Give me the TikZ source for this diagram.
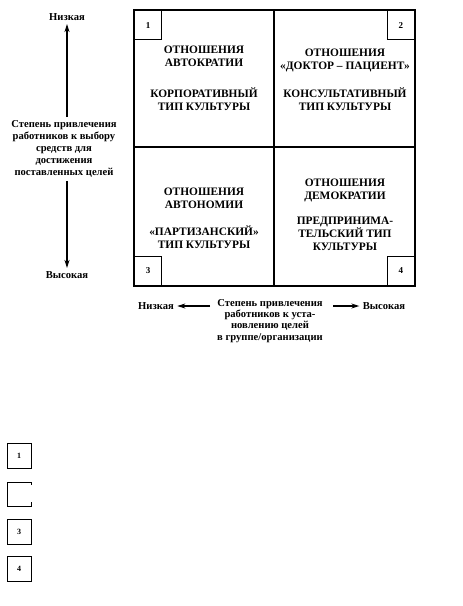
\documentclass[tikz,border=0pt]{standalone}
\usepackage{fontspec}
\setmainfont{Liberation Serif}
\usetikzlibrary{arrows.meta}
\begin{document}
\begin{tikzpicture}[x=1pt,y=-1pt,
  frame/.style={line width=1.8pt},
  numbox/.style={draw,line width=1.2pt,minimum width=27pt,minimum height=29pt,inner sep=0pt,font=\bfseries\fontsize{9}{10}\selectfont},
  legnum/.style={numbox,minimum width=24pt,minimum height=25pt,line width=1pt,font=\bfseries\fontsize{8}{9}\selectfont},
  quad/.style={align=center,font=\bfseries\fontsize{11.4}{13}\selectfont},
  axis/.style={align=center,font=\bfseries\fontsize{10.6}{12}\selectfont},
  arr/.style={-{Stealth[length=8pt,width=5pt]},line width=1.1pt},
  legbox/.style={line width=1pt}]
\useasboundingbox (0,0) rectangle (463,606);
% frame
\draw[frame] (134,10) rectangle (415,286);
\draw[frame] (274,10) -- (274,286);
\draw[frame] (134,147) -- (415,147);
% corner numbers
\node[numbox,anchor=north west] (n1) at (134,10) {1};
\node[numbox,anchor=north east] (n2) at (415,10) {2};
\node[numbox,anchor=south west] (n3) at (134,286) {3};
\node[numbox,anchor=south east] (n4) at (415,286) {4};
% quadrant texts
\node[quad] (q1a) at (204,56) {ОТНОШЕНИЯ\\АВТОКРАТИИ};
\node[quad] (q1b) at (204,99) {КОРПОРАТИВНЫЙ\\ТИП КУЛЬТУРЫ};
\node[quad] (q2a) at (345,60) {ОТНОШЕНИЯ\\«ДОКТОР – ПАЦИЕНТ»};
\node[quad] (q2b) at (345,99) {КОНСУЛЬТАТИВНЫЙ\\ТИП КУЛЬТУРЫ};
\node[quad] (q3a) at (204,198) {ОТНОШЕНИЯ\\АВТОНОМИИ};
\node[quad] (q3b) at (204,237) {«ПАРТИЗАНСКИЙ»\\ТИП КУЛЬТУРЫ};
\node[quad] (q4a) at (345,190) {ОТНОШЕНИЯ\\ДЕМОКРАТИИ};
\node[quad] (q4b) at (345,234) {ПРЕДПРИНИМА-\\ТЕЛЬСКИЙ ТИП\\КУЛЬТУРЫ};
% left axis
\node[axis] (lo) at (67,17) {Низкая};
\node[axis] (hi) at (67,275) {Высокая};
\node[axis] (lab) at (64,149) {Степень привлечения\\работников к выбору\\средств для\\достижения\\поставленных целей};
\draw[arr] (lab.north -| lo) -- (lo.south);
\draw[arr] (lab.south -| hi) -- (hi.north);
% bottom axis
\node[axis,font=\bfseries\fontsize{10.6}{11.2}\selectfont] (blab) at (270,321) {Степень привлечения\\работников к уста-\\новлению целей\\в группе/организации};
\node[axis] (blo) at (156,306) {Низкая};
\node[axis] (bhi) at (384,306) {Высокая};
\coordinate (bl1) at (210,306);
\coordinate (br1) at (333,306);
\draw[arr] (bl1) -- (blo.east);
\draw[arr] (br1) -- (bhi.west);
% legend boxes
\node[legnum] (l1) at (19,456) {1};
\draw[legbox] (31,485) -- (31,482) -- (7,482) -- (7,506) -- (31,506) -- (31,502);
\node[legnum] (l3) at (19,532) {3};
\node[legnum] (l4) at (19,569) {4};
\end{tikzpicture}
\end{document}
